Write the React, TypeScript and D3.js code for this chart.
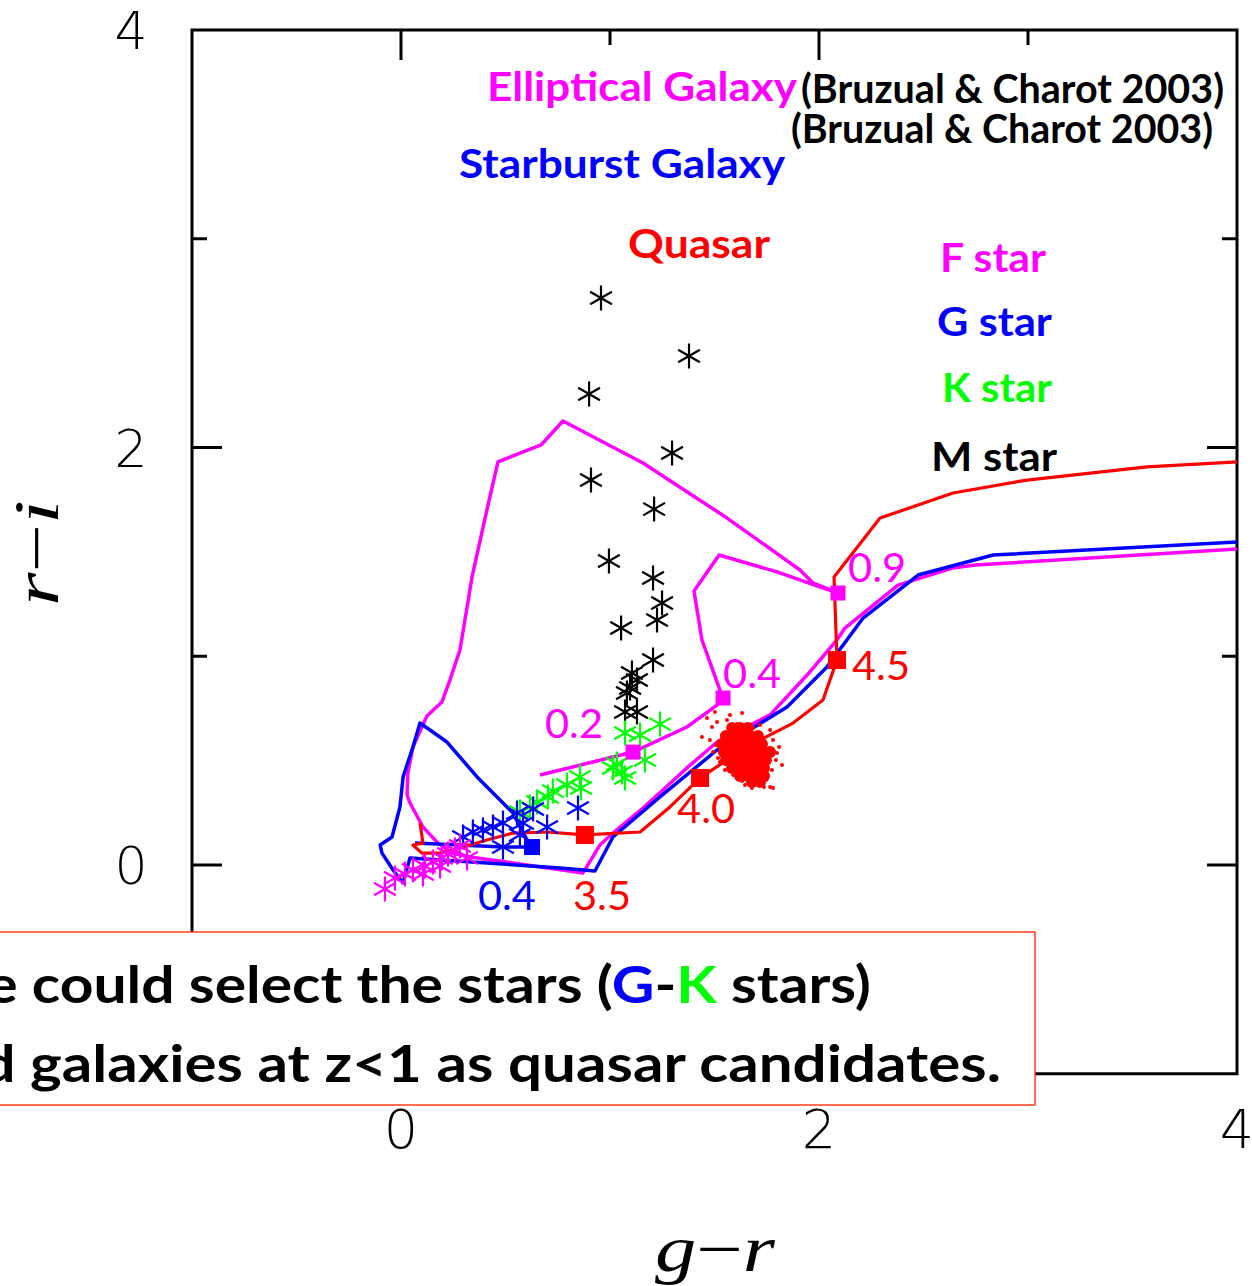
import React from "react";
import * as d3 from "d3";

// ---------- data (g-r, r-i) ----------
const ellipticalTrack: [number, number][] = [
  [0.665, 0.431], [1.11, 0.541], [1.368, 0.661], [1.512, 0.766], [1.541, 0.8],
  [1.526, 0.838], [1.44, 1.078], [1.402, 1.313], [1.522, 1.485], [1.799, 1.404],
  [1.99, 1.337], [2.091, 1.303], [1.971, 1.351], [1.909, 1.413], [1.56, 1.662],
  [1.158, 1.926], [0.775, 2.127], [0.67, 2.012], [0.464, 1.931], [0.411, 1.701],
  [0.34, 1.38], [0.282, 1.03], [0.234, 0.886], [0.196, 0.781], [0.124, 0.714],
  [0.057, 0.565], [0.033, 0.441], [0.029, 0.335], [0.043, 0.297], [0.105, 0.182],
  [0.177, 0.105], [0.244, 0.057], [0.33, 0.038], [0.603, 0.0], [0.871, -0.038],
  [0.952, 0.096], [1.014, 0.153], [1.158, 0.273], [1.368, 0.465], [1.512, 0.589],
  [1.766, 0.719], [1.943, 0.91], [2.086, 1.078], [2.124, 1.135], [2.378, 1.341],
  [2.641, 1.423], [2.746, 1.437], [4.0, 1.514],
];
const starburstTrack: [number, number][] = [
  [0.067, 0.105], [0.488, 0.086], [0.627, 0.086], [0.603, 0.12], [0.536, 0.249],
  [0.364, 0.422], [0.22, 0.589], [0.091, 0.68], [0.057, 0.565], [0.01, 0.422],
  [-0.005, 0.278], [-0.043, 0.134], [-0.1, 0.096], [-0.091, 0.057], [-0.038, -0.024],
  [0.01, -0.086], [0.043, 0.034], [0.761, -0.014], [0.928, -0.029], [1.014, 0.134],
  [1.239, 0.326], [1.512, 0.551], [1.847, 0.757], [2.038, 0.949], [2.211, 1.183],
  [2.474, 1.389], [2.833, 1.485], [4.0, 1.547],
];
const quasarTrack: [number, number][] = [
  [0.091, 0.201], [0.105, 0.105], [0.057, 0.096], [0.1, 0.057], [0.187, 0.057],
  [0.282, 0.081], [0.411, 0.12], [0.536, 0.153], [0.699, 0.158], [0.88, 0.144],
  [1.144, 0.158], [1.287, 0.278], [1.431, 0.417], [1.56, 0.503], [1.718, 0.599],
  [1.876, 0.68], [2.019, 0.79], [2.086, 0.982], [2.072, 1.38], [2.292, 1.662],
  [2.641, 1.782], [2.995, 1.844], [3.569, 1.907], [4.0, 1.931],
];

const ellipticalMarks: [number, number][] = [[1.11, 0.541], [1.541, 0.8], [2.091, 1.303]];
const starburstMarks: [number, number][] = [[0.627, 0.086]];
const quasarMarks: [number, number][] = [[0.88, 0.144], [1.431, 0.417], [2.086, 0.982]];

const ellipticalLabels = ["0.2", "0.4", "0.9"];
const ellipticalLabelPos: [number, number][] = [[0.689, 0.608], [1.541, 0.848], [2.139, 1.356]];
const starburstLabels = ["0.4"];
const starburstLabelPos: [number, number][] = [[0.368, -0.216]];
const quasarLabels = ["3.5", "4.0", "4.5"];
const quasarLabelPos: [number, number][] = [[0.823, -0.216], [1.321, 0.201], [2.158, 0.886]];

const mStars: [number, number][] = [
  [0.957, 2.716], [1.378, 2.438], [0.9, 2.256], [1.297, 1.974], [0.909, 1.844],
  [1.211, 1.705], [0.995, 1.456], [1.206, 1.375], [1.249, 1.255], [1.225, 1.174],
  [1.053, 1.135], [1.206, 0.982], [1.105, 0.92], [1.129, 0.886], [1.096, 0.848],
  [1.081, 0.824], [1.072, 0.733], [1.129, 0.733],
];
const kStars: [number, number][] = [
  [1.072, 0.632], [1.144, 0.623], [1.239, 0.675], [1.167, 0.503], [1.033, 0.484],
  [1.014, 0.465], [1.057, 0.446], [1.072, 0.417], [0.856, 0.422], [0.861, 0.369],
  [0.794, 0.383], [0.727, 0.354], [0.703, 0.326], [0.651, 0.302], [0.617, 0.278],
  [0.569, 0.254],
];
const gStars: [number, number][] = [
  [0.847, 0.273], [0.699, 0.182], [0.632, 0.268], [0.555, 0.249], [0.584, 0.201],
  [0.488, 0.201], [0.44, 0.182], [0.392, 0.168], [0.344, 0.158], [0.297, 0.134],
  [0.488, 0.086], [0.569, 0.144],
];
const fStars: [number, number][] = [
  [-0.077, -0.115], [-0.029, -0.062], [0.019, -0.043], [0.057, -0.024], [0.105, -0.043],
  [0.115, -0.005], [0.153, 0.014], [0.196, 0.034], [0.225, 0.053], [0.258, 0.072],
  [0.282, 0.091], [0.316, 0.034], [0.187, -0.005],
];

const quasarCore: [number, number][] = [
  [1.584, 0.656], [1.622, 0.656], [1.66, 0.656],
  [1.555, 0.618], [1.593, 0.618], [1.632, 0.618], [1.67, 0.618], [1.708, 0.618],
  [1.536, 0.58], [1.574, 0.58], [1.612, 0.58], [1.651, 0.58], [1.689, 0.58], [1.727, 0.58],
  [1.545, 0.541], [1.584, 0.541], [1.622, 0.541], [1.66, 0.541], [1.699, 0.541], [1.737, 0.541], [1.766, 0.541],
  [1.555, 0.503], [1.593, 0.503], [1.632, 0.503], [1.67, 0.503], [1.708, 0.503], [1.746, 0.503],
  [1.584, 0.465], [1.622, 0.465], [1.66, 0.465], [1.699, 0.465], [1.737, 0.465],
  [1.622, 0.426], [1.66, 0.426], [1.699, 0.426], [1.737, 0.426],
  [1.679, 0.398], [1.718, 0.398],
];
const quasarScatter: [number, number][] = [
  [1.464, 0.704], [1.502, 0.733], [1.44, 0.613], [1.488, 0.661], [1.512, 0.685],
  [1.56, 0.695], [1.574, 0.719], [1.632, 0.728], [1.684, 0.656], [1.78, 0.599],
  [1.799, 0.537], [1.823, 0.479], [1.766, 0.374], [1.78, 0.369], [1.718, 0.393],
  [1.589, 0.431], [1.574, 0.455], [1.507, 0.575], [1.493, 0.541], [1.526, 0.493],
  [1.55, 0.455], [1.646, 0.383], [1.746, 0.407], [1.775, 0.455], [1.794, 0.503],
  [1.766, 0.647], [1.718, 0.671], [1.608, 0.675], [1.536, 0.623], [1.517, 0.513],
  [1.632, 0.402], [1.679, 0.369], [1.737, 0.374], [1.809, 0.565], [1.478, 0.599],
];

const xTickLabels = [0, 2, 4];
const yTickLabels = [0, 2, 4];
const majorTicks = [0, 2];
const minorTicks = [1, 3];

// ---------- layout ----------
const W = 1252;
const H = 1286;
const x = d3.scaleLinear().domain([-1, 4]).range([192, 1237]);
const y = d3.scaleLinear().domain([-1, 4]).range([1073.75, 30]);

const MAG = "#ff00ff";
const BLUE = "#0000ff";
const RED = "#ff0000";
const GREEN = "#00ff00";
const SANS = "Lato, 'Open Sans', 'Noto Sans', sans-serif";

const line = d3.line<[number, number]>().x((d) => x(d[0])).y((d) => y(d[1]));

function starPath(cx: number, cy: number, r: number) {
  const dx = r * 0.87;
  const dy = r * 0.5;
  return `M${cx},${cy - r}L${cx},${cy + r}M${cx - dx},${cy - dy}L${cx + dx},${cy + dy}M${cx - dx},${cy + dy}L${cx + dx},${cy - dy}`;
}

function Stars({ data, color, width }: { data: [number, number][]; color: string; width: number }) {
  return (
    <g>
      {data.map((d, i) => (
        <path key={i} d={starPath(x(d[0]), y(d[1]), 12.5)} stroke={color} strokeWidth={width} fill="none" />
      ))}
    </g>
  );
}

function Squares({ data, color, size }: { data: [number, number][]; color: string; size: number }) {
  return (
    <g>
      {data.map((d, i) => (
        <rect key={i} x={x(d[0]) - size / 2} y={y(d[1]) - size / 2} width={size} height={size} fill={color} />
      ))}
    </g>
  );
}

function Labels({ labels, pos, color }: { labels: string[]; pos: [number, number][]; color: string }) {
  return (
    <g>
      {labels.map((t, i) => (
        <text key={i} x={x(pos[i][0])} y={y(pos[i][1])} fill={color} fontFamily={SANS} fontSize={41}
          textLength={58} lengthAdjust="spacingAndGlyphs">{t}</text>
      ))}
    </g>
  );
}

export default function App() {
  const x0 = x(-1), x1 = x(4), y0 = y(-1), y1 = y(4);
  return (
    <svg width={W} height={H} style={{ position: "absolute", left: 0, top: 0, background: "#fff" }}>
      <rect x={0} y={0} width={W} height={H} fill="#fff" />
      {/* frame */}
      <rect x={x0} y={y1} width={x1 - x0} height={y0 - y1} fill="none" stroke="#000" strokeWidth={3} />
      {majorTicks.map((t) => (
        <g key={"M" + t} stroke="#000" strokeWidth={3}>
          <line x1={x(t)} x2={x(t)} y1={y1} y2={y1 + 30} />
          <line x1={x(t)} x2={x(t)} y1={y0} y2={y0 - 30} />
          <line x1={x0} x2={x0 + 30} y1={y(t)} y2={y(t)} />
          <line x1={x1} x2={x1 - 30} y1={y(t)} y2={y(t)} />
        </g>
      ))}
      {minorTicks.map((t) => (
        <g key={"m" + t} stroke="#000" strokeWidth={3}>
          <line x1={x(t)} x2={x(t)} y1={y1} y2={y1 + 15} />
          <line x1={x(t)} x2={x(t)} y1={y0} y2={y0 - 15} />
          <line x1={x0} x2={x0 + 15} y1={y(t)} y2={y(t)} />
          <line x1={x1} x2={x1 - 15} y1={y(t)} y2={y(t)} />
        </g>
      ))}
      {/* tick labels */}
      {xTickLabels.map((t) => (
        <text key={"xl" + t} x={x(t)} y={1148} textAnchor="middle" fontFamily="'DejaVu Sans', sans-serif"
          fontWeight={200} fontSize={54}>{t}</text>
      ))}
      {yTickLabels.map((t) => (
        <text key={"yl" + t} x={131} y={y(t) + 19} textAnchor="middle" fontFamily="'DejaVu Sans', sans-serif"
          fontWeight={200} fontSize={52}>{t}</text>
      ))}
      {/* axis titles */}
      <text x={655} y={1271} fontFamily="'Liberation Serif', 'DejaVu Serif', serif" fontSize={66}
        textLength={120} lengthAdjust="spacingAndGlyphs">
        <tspan fontStyle="italic">g</tspan><tspan>−</tspan><tspan fontStyle="italic">r</tspan>
      </text>
      <text transform="translate(58,606) rotate(-90)" fontFamily="'Liberation Serif', 'DejaVu Serif', serif"
        fontSize={64} textLength={106} lengthAdjust="spacingAndGlyphs">
        <tspan fontStyle="italic">r</tspan><tspan>−</tspan><tspan fontStyle="italic">i</tspan>
      </text>

      {/* tracks */}
      <path d={line(ellipticalTrack) || ""} fill="none" stroke={MAG} strokeWidth={3.5} strokeLinejoin="round" />
      <path d={line(starburstTrack) || ""} fill="none" stroke={BLUE} strokeWidth={3.5} strokeLinejoin="round" />
      <path d={line(quasarTrack) || ""} fill="none" stroke={RED} strokeWidth={3.2} strokeLinejoin="round" />

      {/* stars */}
      <Stars data={mStars} color="#000" width={2.2} />
      <Stars data={kStars} color={GREEN} width={2.2} />
      <Stars data={gStars} color={BLUE} width={2.2} />
      <Stars data={fStars} color={MAG} width={2.2} />

      {/* quasar points */}
      <g fill={RED}>
        {quasarCore.map((d, i) => (<circle key={"c" + i} cx={x(d[0])} cy={y(d[1])} r={6} />))}
        {quasarScatter.map((d, i) => (<circle key={"s" + i} cx={x(d[0])} cy={y(d[1])} r={2} />))}
      </g>

      {/* redshift markers */}
      <Squares data={ellipticalMarks} color={MAG} size={15} />
      <Squares data={starburstMarks} color={BLUE} size={16} />
      <Squares data={quasarMarks} color={RED} size={18} />
      <Labels labels={ellipticalLabels} pos={ellipticalLabelPos} color={MAG} />
      <Labels labels={starburstLabels} pos={starburstLabelPos} color={BLUE} />
      <Labels labels={quasarLabels} pos={quasarLabelPos} color={RED} />

      {/* legend texts */}
      <g fontFamily={SANS} fontWeight={700} fontSize={40}>
        <text x={487} y={101} fill={MAG} textLength={310} lengthAdjust="spacingAndGlyphs">Elliptical Galaxy</text>
        <text x={801} y={103} fill="#000" textLength={423} lengthAdjust="spacingAndGlyphs">(Bruzual &amp; Charot 2003)</text>
        <text x={791} y={143} fill="#000" textLength={422} lengthAdjust="spacingAndGlyphs">(Bruzual &amp; Charot 2003)</text>
        <text x={459} y={178} fill={BLUE} textLength={326} lengthAdjust="spacingAndGlyphs">Starburst Galaxy</text>
        <text x={628} y={258} fill={RED} textLength={142} lengthAdjust="spacingAndGlyphs">Quasar</text>
        <text x={940} y={272} fill={MAG} textLength={106} lengthAdjust="spacingAndGlyphs">F star</text>
        <text x={937} y={336} fill={BLUE} textLength={115} lengthAdjust="spacingAndGlyphs">G star</text>
        <text x={942} y={402} fill={GREEN} textLength={110} lengthAdjust="spacingAndGlyphs">K star</text>
        <text x={931} y={471} fill="#000" textLength={126} lengthAdjust="spacingAndGlyphs">M star</text>
      </g>

      {/* callout box */}
      <rect x={-10} y={932} width={1045} height={173} fill="#fff" stroke="#ff3b1f" strokeWidth={1.5} />
      <g fontFamily={SANS} fontWeight={700} fontSize={52}>
        <text x={871} y={1003} textAnchor="end" fill="#000" textLength={943} lengthAdjust="spacingAndGlyphs">
          We could select the stars (<tspan fill={BLUE}>G</tspan>-<tspan fill={GREEN}>K</tspan> stars)
        </text>
        <text x={1001} y={1082} textAnchor="end" fill="#000" textLength={1084} lengthAdjust="spacingAndGlyphs">
          and galaxies at z&lt;1 as quasar candidates.
        </text>
      </g>
    </svg>
  );
}
